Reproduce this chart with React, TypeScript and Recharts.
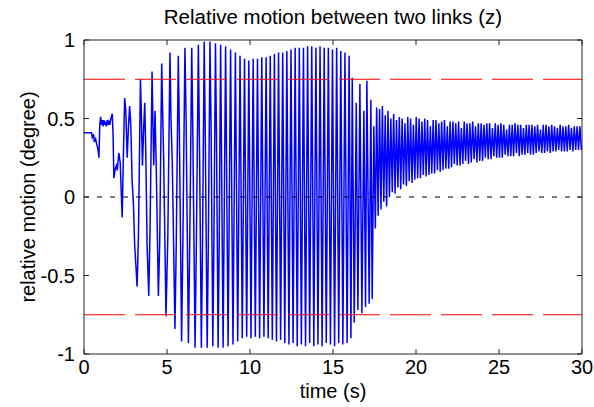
import React from 'react';
import { LineChart, Line, XAxis, YAxis, ReferenceLine } from 'recharts';

// ---- tick labels ----
const xTicks = [0, 5, 10, 15, 20, 25, 30];
const yTicks = [-1, -0.5, 0, 0.5, 1];

// ---- reference levels ----
const limitLevels = [0.75, -0.75];
const zeroLevel = 0;

// ---- start-up part (time s, value deg) ----
const earlyTime = [
  0.0, 0.45, 0.5, 0.58, 0.62, 0.7, 0.78, 0.85, 0.9, 0.95, 1.0, 1.05, 1.1, 1.15, 1.2, 1.25, 1.3, 1.35,
  1.4, 1.45, 1.5, 1.55, 1.62, 1.7, 1.75, 1.8, 1.88, 1.95, 2.0, 2.1, 2.18, 2.3, 2.36, 2.45, 2.52, 2.6,
  2.68, 2.75, 2.82, 2.9, 2.98, 3.05, 3.2, 3.28, 3.4, 3.45, 3.52, 3.6, 3.66, 3.72, 3.8, 3.9, 3.98, 4.1,
  4.15, 4.2, 4.28, 4.36, 4.48, 4.56, 4.68, 4.73, 4.8, 4.94, 5.05, 5.18, 5.24, 5.32, 5.48, 5.56, 5.68,
  5.74, 5.88, 5.96, 6.08, 6.15, 6.29, 6.37, 6.49, 6.56, 6.69, 6.77, 6.89, 6.96, 7.07, 7.14, 7.24, 7.31,
  7.42, 7.49, 7.59, 7.66, 7.76, 7.82, 7.92, 7.98, 8.08, 8.14, 8.23,
];
const earlyValue = [
  0.41, 0.41, 0.38, 0.4, 0.35, 0.37, 0.33, 0.3, 0.25, 0.45, 0.51, 0.46, 0.49, 0.45, 0.49, 0.46, 0.48, 0.45,
  0.49, 0.46, 0.48, 0.46, 0.5, 0.53, 0.4, 0.12, 0.18, 0.2, 0.17, 0.28, 0.22, -0.13, 0.2, 0.63, 0.55, 0.25,
  0.45, 0.58, 0.45, 0.1, -0.05, -0.3, -0.57, -0.25, 0.75, 0.55, 0.2, 0.45, 0.6, 0.3, -0.3, -0.63, -0.2, 0.8,
  0.5, 0.2, 0.55, 0.15, -0.63, -0.3, 0.85, 0.58, 0.24, -0.76, -0.25, 0.92, 0.5, 0.21, -0.84, -0.28, 0.9,
  0.46, -0.92, -0.25, 0.95, 0.5, -0.93, -0.3, 0.95, 0.37, -0.96, -0.28, 0.97, 0.3, -0.96, -0.3, 0.99, 0.35,
  -0.96, -0.3, 0.99, 0.4, -0.95, -0.35, 0.98, 0.4, -0.96, -0.35, 0.97,
];

// ---- large oscillation: peak times, trough before each peak, peak values ----
const densePeakTime = [
  8.53, 8.83, 9.12, 9.4, 9.67, 9.93, 10.19, 10.45, 10.71, 10.97, 11.22, 11.47, 11.72, 11.97, 12.22,
  12.47, 12.72, 12.97, 13.22, 13.47, 13.72, 13.97, 14.22, 14.47, 14.72, 14.97, 15.22, 15.47, 15.72,
];
const denseTrough = [
  -0.96, -0.95, -0.94, -0.92, -0.9, -0.89, -0.9, -0.89, -0.9, -0.89, -0.9, -0.91, -0.92, -0.91, -0.93,
  -0.94, -0.93, -0.95, -0.94, -0.95, -0.93, -0.95, -0.94, -0.95, -0.93, -0.94, -0.95, -0.93, -0.94,
];
const densePeak = [
  0.96, 0.94, 0.92, 0.9, 0.88, 0.87, 0.88, 0.88, 0.89, 0.89, 0.9, 0.91, 0.92, 0.92, 0.93, 0.94, 0.95,
  0.95, 0.95, 0.96, 0.96, 0.95, 0.96, 0.95, 0.95, 0.94, 0.95, 0.93, 0.92,
];

// ---- transition to small oscillation ----
const transitionTime = [
  15.85, 15.97, 16.08, 16.16, 16.28, 16.4, 16.5, 16.62, 16.74, 16.86, 16.96, 17.04, 17.18, 17.28, 17.36,
  17.46, 17.55, 17.63,
];
const transitionValue = [
  -0.93, 0.9, -0.9, 0.76, -0.8, 0.6, -0.72, 0.72, -0.74, 0.55, -0.7, 0.74, -0.68, 0.62, -0.65, 0.45,
  -0.2, 0.57,
];

// ---- small residual oscillation ----
const tailStart = 17.72;
const tailPeriod = 0.17;
const tailTrough = [
  -0.12, -0.08, -0.03, -0.06, 0.0, 0.03, 0.02, 0.06, 0.05, 0.08, 0.07, 0.1, 0.09, 0.11, 0.12, 0.12,
  0.14, 0.13, 0.14, 0.15, 0.15, 0.17, 0.16, 0.17, 0.18, 0.18, 0.19, 0.21, 0.2, 0.2, 0.21, 0.23, 0.21,
  0.22, 0.24, 0.22, 0.23, 0.23, 0.25, 0.24, 0.24, 0.26, 0.25, 0.25, 0.25, 0.27, 0.26, 0.26, 0.26, 0.28,
  0.26, 0.27, 0.27, 0.28, 0.27, 0.27, 0.28, 0.29, 0.28, 0.28, 0.29, 0.28, 0.29, 0.29, 0.3, 0.29, 0.29,
  0.29, 0.3, 0.29, 0.3, 0.3, 0.3,
];
const tailPeak = [
  0.56, 0.58, 0.52, 0.55, 0.5, 0.53, 0.49, 0.51, 0.5, 0.47, 0.51, 0.5, 0.46, 0.51, 0.5, 0.48, 0.5, 0.49,
  0.45, 0.49, 0.49, 0.47, 0.48, 0.49, 0.45, 0.48, 0.48, 0.47, 0.48, 0.44, 0.48, 0.47, 0.47, 0.48, 0.45,
  0.47, 0.47, 0.46, 0.47, 0.47, 0.44, 0.47, 0.46, 0.47, 0.46, 0.43, 0.46, 0.46, 0.47, 0.46, 0.46, 0.44,
  0.46, 0.46, 0.46, 0.45, 0.46, 0.43, 0.46, 0.46, 0.45, 0.46, 0.45, 0.44, 0.46, 0.45, 0.45, 0.46, 0.44,
  0.45, 0.45, 0.45,
];

type Pt = { t: number; v: number };
const points: Pt[] = [];
earlyTime.forEach((t, i) => points.push({ t, v: earlyValue[i] }));
let prevPeak = earlyTime[earlyTime.length - 1];
densePeakTime.forEach((tp, i) => {
  points.push({ t: (prevPeak + tp) / 2, v: denseTrough[i] });
  points.push({ t: tp, v: densePeak[i] });
  prevPeak = tp;
});
transitionTime.forEach((t, i) => points.push({ t, v: transitionValue[i] }));
tailTrough.forEach((v, i) => {
  points.push({ t: tailStart + i * tailPeriod, v });
  if (i < tailPeak.length) points.push({ t: tailStart + (i + 0.5) * tailPeriod, v: tailPeak[i] });
});

const FONT = '"Liberation Sans", Arial, Helvetica, sans-serif';
const AX = '#222';
const blank = () => '';

export default function App() {
  return (
    <div style={{ position: 'absolute', left: 0, top: 0, width: 594, height: 407, fontFamily: FONT, color: '#000', background: '#fff' }}>
      <LineChart width={594} height={407} data={points} margin={{ top: 40, right: 12, bottom: 23, left: 0 }}>
        <XAxis
          xAxisId="b"
          dataKey="t"
          type="number"
          domain={[0, 30]}
          ticks={xTicks}
          allowDataOverflow
          height={30}
          tickLine={false}
          tickSize={5}
          tickMargin={1}
          axisLine={{ stroke: AX }}
          tick={{ fontSize: 20, fill: '#000', fontFamily: FONT }}
        />
        <XAxis
          xAxisId="bm"
          dataKey="t"
          type="number"
          orientation="bottom"
          mirror
          domain={[0, 30]}
          ticks={xTicks}
          allowDataOverflow
          tickSize={5}
          tickFormatter={blank}
          axisLine={false}
          tickLine={{ stroke: AX }}
        />
        <XAxis
          xAxisId="tm"
          dataKey="t"
          type="number"
          orientation="top"
          mirror
          domain={[0, 30]}
          ticks={xTicks}
          allowDataOverflow
          tickSize={5}
          tickFormatter={blank}
          axisLine={{ stroke: AX }}
          tickLine={{ stroke: AX }}
        />
        <YAxis
          yAxisId="l"
          type="number"
          domain={[-1, 1]}
          ticks={yTicks}
          allowDataOverflow
          width={84}
          tickLine={false}
          tickSize={5}
          tickMargin={4}
          axisLine={{ stroke: AX }}
          tick={{ fontSize: 20, fill: '#000', fontFamily: FONT }}
        />
        <YAxis
          yAxisId="lm"
          type="number"
          orientation="left"
          mirror
          domain={[-1, 1]}
          ticks={yTicks}
          allowDataOverflow
          tickSize={5}
          tickFormatter={blank}
          axisLine={false}
          tickLine={{ stroke: AX }}
        />
        <YAxis
          yAxisId="rm"
          type="number"
          orientation="right"
          mirror
          domain={[-1, 1]}
          ticks={yTicks}
          allowDataOverflow
          tickSize={5}
          tickFormatter={blank}
          axisLine={{ stroke: AX }}
          tickLine={{ stroke: AX }}
        />
        <Line
          xAxisId="b"
          yAxisId="l"
          type="linear"
          dataKey="v"
          stroke="#0000ff"
          strokeWidth={1.5}
          dot={false}
          isAnimationActive={false}
        />
        {limitLevels.map((y) => (
          <ReferenceLine key={y} xAxisId="b" yAxisId="l" y={y} stroke="#ff0000" strokeWidth={1} strokeDasharray="41 10" />
        ))}
        <ReferenceLine xAxisId="b" yAxisId="l" y={zeroLevel} stroke="#000" strokeWidth={1} strokeDasharray="5 8" />
      </LineChart>
      <div style={{ position: 'absolute', left: 84, width: 498, top: 7, textAlign: 'center', fontSize: 20.5, lineHeight: '20px', whiteSpace: 'nowrap' }}>
        Relative motion between two links (z)
      </div>
      <div style={{ position: 'absolute', left: 84, width: 498, top: 381, textAlign: 'center', fontSize: 20, lineHeight: '20px', whiteSpace: 'nowrap' }}>
        time (s)
      </div>
      <div style={{ position: 'absolute', left: 28, top: 197, width: 0, height: 0, overflow: 'visible' }}>
        <div
          style={{
            position: 'absolute',
            left: -150,
            top: -10,
            width: 300,
            textAlign: 'center',
            fontSize: 20,
            lineHeight: '20px',
            whiteSpace: 'nowrap',
            transform: 'rotate(-90deg)',
            transformOrigin: '150px 10px',
          }}
        >
          relative motion (degree)
        </div>
      </div>
    </div>
  );
}
